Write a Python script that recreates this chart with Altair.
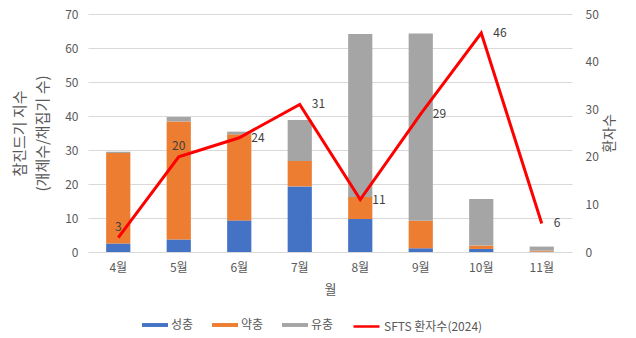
import altair as alt
import pandas as pd

months = ["4월", "5월", "6월", "7월", "8월", "9월", "10월", "11월"]
adult = [2.5, 3.7, 9.3, 19.3, 9.7, 1.1, 0.9, 0.1]      # 성충
nymph = [26.6, 34.7, 25.3, 7.5, 6.5, 8.1, 1.0, 0.3]    # 약충
larva = [0.4, 1.3, 0.8, 12.0, 47.9, 55.1, 13.7, 1.2]   # 유충
patients = [3, 20, 24, 31, 11, 29, 46, 6]              # SFTS 환자수(2024)

stages = ["성충", "약충", "유충"]
stage_colors = ["#4472C4", "#ED7D31", "#A5A5A5"]
line_name = "SFTS 환자수(2024)"

rows = []
for i, m in enumerate(months):
    for k, (s, vals) in enumerate(zip(stages, [adult, nymph, larva])):
        rows.append({"month": m, "stage": s, "value": vals[i], "order": k})
bars_df = pd.DataFrame(rows)
line_df = pd.DataFrame({"month": months, "patients": patients, "series": [line_name] * len(months)})

FONT = "Noto Sans CJK KR"
TXT = "#595959"

x_enc = alt.X("month:N", sort=months, title="월",
              scale=alt.Scale(paddingInner=0.6, paddingOuter=0.3),
              axis=alt.Axis(labelAngle=0, ticks=False, domain=False, labelPadding=10,
                            titlePadding=10, labelFontSize=12, titleFontSize=13))

bars = alt.Chart(bars_df).mark_bar().encode(
    x=x_enc,
    y=alt.Y("value:Q", stack="zero",
            title=["참진드기 지수", "(개체수/채집기 수)"],
            scale=alt.Scale(domain=[0, 70], nice=False),
            axis=alt.Axis(values=list(range(0, 71, 10)), ticks=False, domain=False,
                          labelPadding=10, titlePadding=14, titleLineHeight=23,
                          labelFontSize=12, titleFontSize=15, grid=True, orient="left")),
    color=alt.Color("stage:N", scale=alt.Scale(domain=stages, range=stage_colors),
                    legend=alt.Legend(title=None, orient="none", legendX=54, legendY=298,
                                      direction="horizontal", columnPadding=18, labelOffset=3,
                                      symbolType="M-1,-0.15H1V0.15H-1Z", symbolSize=676,
                                      symbolStrokeWidth=0, labelFontSize=12)),
    order=alt.Order("order:Q"),
)

y_right = alt.Y("patients:Q", title="환자수",
                scale=alt.Scale(domain=[0, 50], nice=False),
                axis=alt.Axis(values=list(range(0, 51, 5)), ticks=False, domain=False, grid=False,
                              labelPadding=13, titlePadding=18, titleAngle=270,
                              labelFontSize=12, titleFontSize=14, orient="right"))

line = alt.Chart(line_df).mark_line(strokeWidth=3).encode(
    x=alt.X("month:N", sort=months),
    y=y_right,
    stroke=alt.Stroke("series:N", scale=alt.Scale(domain=[line_name], range=["#FF0000"]),
                      legend=alt.Legend(title=None, orient="none", legendX=264, legendY=298,
                                        symbolType="stroke", symbolSize=676,
                                        symbolStrokeWidth=2.5, labelOffset=3, labelFontSize=12)),
)

above = alt.Chart(line_df).transform_filter(
    alt.FieldOneOfPredicate(field="month", oneOf=["4월", "5월"])
).mark_text(dy=-11, fontSize=12, color="#404040", font=FONT).encode(
    x=alt.X("month:N", sort=months),
    y=alt.Y("patients:Q", scale=alt.Scale(domain=[0, 50], nice=False)),
    text="patients:Q",
)

right = alt.Chart(line_df).transform_filter(
    ~alt.FieldOneOfPredicate(field="month", oneOf=["4월", "5월"])
).mark_text(dx=12, align="left", fontSize=12, color="#404040", font=FONT).encode(
    x=alt.X("month:N", sort=months),
    y=alt.Y("patients:Q", scale=alt.Scale(domain=[0, 50], nice=False)),
    text="patients:Q",
)

line_layer = alt.layer(line, above, right)

chart = alt.layer(bars, line_layer).resolve_scale(
    y="independent", color="independent", stroke="independent"
).properties(
    width=484, height=238,
    autosize=alt.AutoSizeParams(type="none"),
    padding={"left": 88, "top": 14, "right": 64, "bottom": 86},
).configure_view(stroke=None).configure_axis(
    labelFont=FONT, titleFont=FONT, labelColor=TXT, titleColor=TXT,
    titleFontWeight="normal", gridColor="#D9D9D9", gridWidth=1,
).configure_legend(
    labelFont=FONT, labelColor=TXT,
)

chart.save("out.html", embed_options={"renderer": "svg", "actions": False})
